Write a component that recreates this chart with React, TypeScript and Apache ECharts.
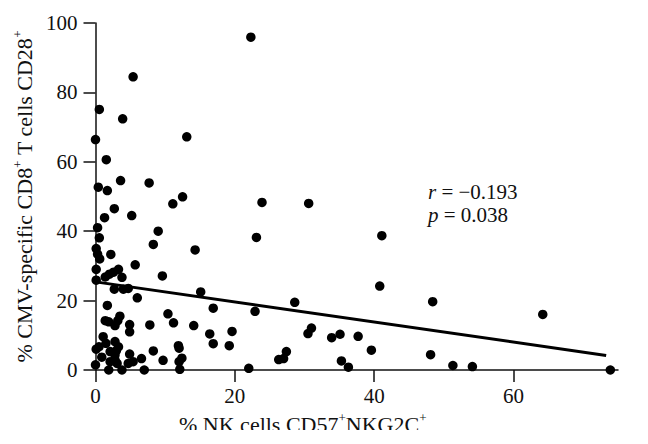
import React, { useEffect, useRef } from "react";
import * as echarts from "echarts";

// % NK cells CD57+NKG2C+ (x) and % CMV-specific CD8+ T cells CD28+ (y)
const nkX = [
  5.4, 0.55, 3.9, 0.0, 13.1, 1.55, 0.4, 1.7, 3.6, 7.7,
  12.5, 11.1, 2.7, 5.2, 1.3, 0.3, 0.55, 9.0, 8.3, 14.3,
  0.1, 0.3, 0.6, 2.2, 5.7, 0.1, 1.4, 2.0, 2.6, 3.3,
  3.8, 0.1, 2.7, 4.0, 4.7, 6.0, 9.6, 15.1, 1.7, 1.4,
  1.9, 2.8, 3.2, 3.5, 4.9, 4.9, 7.8, 10.4, 11.2, 14.1,
  16.9, 16.4, 16.9, 1.1, 0.5, 0.1, 1.5, 2.1, 2.8, 3.0,
  3.3, 2.1, 2.8, 3.1, 0.0, 1.9, 3.8, 4.9, 4.7, 5.4,
  6.6, 7.0, 8.3, 9.7, 11.9, 12.0, 12.4, 12.0, 12.1, 2.8,
  0.9,
  22.3, 23.9, 30.6, 23.1, 41.1, 40.8, 28.6, 48.4, 64.2, 22.9,
  19.6, 19.2, 31.0, 30.5, 33.9, 35.1, 37.7, 39.6, 35.3, 36.3,
  26.3, 27.0, 27.4, 22.0, 48.1, 51.3, 54.1, 73.9,
];
const cd28Y = [
  84.5, 75.1, 72.4, 66.4, 67.2, 60.6, 52.7, 51.7, 54.6, 53.9,
  49.9, 47.9, 46.5, 44.5, 43.9, 41.0, 38.1, 40.0, 36.2, 34.6,
  35.0, 33.4, 32.0, 33.3, 30.3, 29.0, 26.8, 27.6, 28.2, 29.0,
  26.7, 25.9, 23.3, 23.3, 23.5, 20.8, 27.1, 22.5, 18.6, 14.2,
  13.9, 12.8, 14.2, 15.5, 13.1, 11.0, 13.0, 16.2, 13.6, 12.8,
  17.8, 10.4, 7.6, 9.6, 6.7, 6.0, 7.7, 5.3, 8.2, 5.6,
  6.7, 2.4, 2.9, 1.9, 1.5, 0.0, 0.0, 4.6, 1.9, 2.4,
  3.3, 0.0, 5.5, 2.8, 7.0, 6.3, 3.4, 2.4, 0.2, 4.3,
  3.7,
  95.9, 48.3, 48.0, 38.2, 38.7, 24.2, 19.5, 19.7, 16.0, 16.9,
  11.1, 7.0, 12.1, 10.5, 9.3, 10.3, 9.7, 5.7, 2.6, 0.8,
  3.0, 3.3, 5.3, 0.5, 4.4, 1.3, 1.0, 0.0,
];

// regression line end points
const fitX = [0, 73.3];
const fitY = [25.4, 4.2];

const xTicks = [0, 20, 40, 60];
const yTicks = [0, 20, 40, 60, 80, 100];

const statLines = ["{i|r} = \u22120.193", "{i|p} = 0.038"];

const FONT = "'Liberation Serif', 'DejaVu Serif', 'Times New Roman', serif";

export default function App() {
  const ref = useRef<HTMLDivElement>(null);

  useEffect(() => {
    if (!ref.current) return;
    const chart = echarts.init(ref.current, undefined, { renderer: "svg" });

    const points = nkX.map((x, i) => [x, cd28Y[i]]);
    const fit = fitX.map((x, i) => [x, fitY[i]]);

    const axisColor = "#111";
    const rich = {
      n: { fontSize: 22, fontFamily: FONT, color: "#111", lineHeight: 26 },
      s: { fontSize: 13, fontFamily: FONT, color: "#111", verticalAlign: "top", lineHeight: 13 },
    };

    chart.setOption({
      animation: false,
      backgroundColor: "#fff",
      grid: { left: 95.5, right: 30, top: 23, bottom: 74, containLabel: false },
      xAxis: {
        type: "value",
        min: 0,
        max: 75,
        interval: 20,
        name: "{n|% NK cells CD57}{s|+}{n|NKG2C}{s|+}",
        nameLocation: "middle",
        nameGap: 41,
        nameTextStyle: { rich, padding: [0, 108, 0, 0] },
        axisLine: { show: true, lineStyle: { color: axisColor, width: 1.5 } },
        axisTick: {
          show: true,
          length: 12,
          customValues: xTicks,
          lineStyle: { color: axisColor, width: 1.5 },
        },
        axisLabel: {
          customValues: xTicks,
          fontSize: 21,
          fontFamily: FONT,
          color: "#111",
          margin: 15,
        },
        splitLine: { show: false },
      },
      yAxis: {
        type: "value",
        min: 0,
        max: 100,
        interval: 20,
        name: "{n|% CMV-specific CD8}{s|+}{n| T cells CD28}{s|+}",
        nameLocation: "middle",
        nameGap: 55,
        nameTextStyle: { rich },
        axisLine: { show: true, lineStyle: { color: axisColor, width: 1.5 } },
        axisTick: { show: true, length: 12, lineStyle: { color: axisColor, width: 1.5 } },
        axisLabel: {
          customValues: yTicks,
          fontSize: 21,
          fontFamily: FONT,
          color: "#111",
          margin: 18,
        },
        splitLine: { show: false },
      },
      series: [
        {
          type: "scatter",
          data: points,
          symbol: "circle",
          symbolSize: 9.5,
          itemStyle: { color: "#000", opacity: 1 },
          clip: false,
          z: 3,
        },
        {
          type: "line",
          data: fit,
          showSymbol: false,
          symbol: "none",
          lineStyle: { color: "#000", width: 3 },
          z: 2,
        },
      ],
      graphic: [
        ...statLines.map((t, i) => ({
          type: "text",
          left: 428,
          top: 181 + i * 23,
          style: {
            text: t,
            fontSize: 21,
            fontFamily: FONT,
            fill: "#111",
            rich: { i: { fontStyle: "italic", fontSize: 21, fontFamily: FONT, fill: "#111" } },
          },
        })),
        {
          type: "rect",
          left: 0,
          top: 430,
          shape: { width: 648, height: 20 },
          style: { fill: "#fff" },
          z: 100,
        },
      ],
    });

    return () => chart.dispose();
  }, []);

  return (
    <div
      ref={ref}
      style={{ position: "fixed", left: 0, top: 0, width: 648, height: 444, background: "#fff" }}
    />
  );
}
